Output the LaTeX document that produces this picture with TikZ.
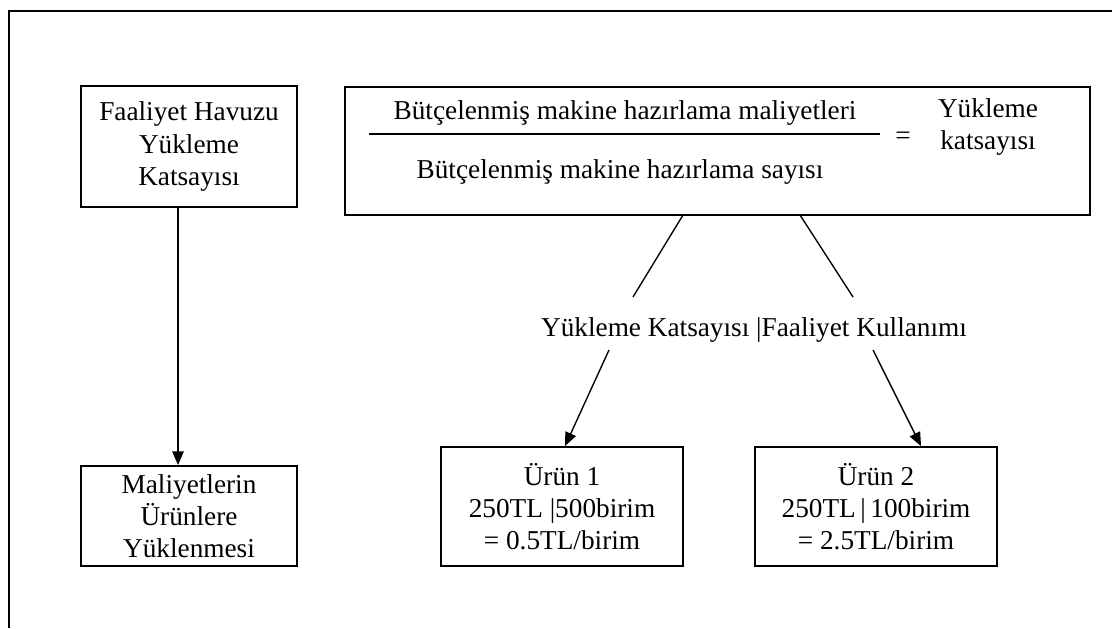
\documentclass[tikz,border=0pt]{standalone}
\usepackage{fontspec}
\setmainfont{Liberation Serif}
\usetikzlibrary{calc}
\usetikzlibrary{arrows.meta}

\begin{document}
\begin{tikzpicture}[x=0.44pt, y=-0.44pt, font=\fontsize{12}{14.1}\selectfont,
  kutu/.style={draw, thick, align=center, inner sep=0},
  yazi/.style={align=center, inner sep=0},
  ok/.style={semithick, -{Triangle[length=6pt, width=5pt]}}]
\useasboundingbox (0,0) rectangle (1112,628);
\draw[thick] (1112,11) -- (9,11) -- (9,628);
% left column
\node[kutu, minimum width=95pt, minimum height=53.2pt] (havuz) at (189,146.5) {Faaliyet Havuzu\\Yükleme\\Katsayısı};
\node[kutu, minimum width=95pt, minimum height=44pt] (maliyet) at (189,516) {Maliyetlerin\\Ürünlere\\Yüklenmesi};
\draw[ok] ($(havuz.south)+(-11,0)$) -- ($(maliyet.north)+(-11,0)$);
% formula box
\node[kutu, minimum width=327.8pt, minimum height=56.3pt] (formul) at (717.5,151) {};
\node[yazi] (pay) at (625,113) {Bütçelenmiş makine hazırlama maliyetleri};
\node[yazi] (payda) at (620,172) {Bütçelenmiş makine hazırlama sayısı};
\draw[semithick] (369,134) -- (880,134);
\node[yazi] (esit) at (903,138) {=};
\node[yazi] (sonuc) at (988,127) {Yükleme\\ katsayısı};
% middle label
\node[yazi] (katsayi) at (754,330) {Yükleme Katsayısı |Faaliyet Kullanımı};
\coordinate (c1) at (683,215);
\coordinate (c2) at (633,297);
\coordinate (c3) at (800,215);
\coordinate (c4) at (853,297);
\coordinate (d1) at (609,350);
\coordinate (d2) at (873,350);
\draw[semithick] (c1) -- (c2);
\draw[semithick] (c3) -- (c4);
% products
\node[kutu, minimum width=106.5pt, minimum height=52.4pt] (urun1) at (562,506.5) {Ürün 1\\250TL |500birim\\= 0.5TL/birim};
\node[kutu, minimum width=106.5pt, minimum height=52.4pt] (urun2) at (876,506.5) {Ürün 2\\250TL\,|\,100birim\\= 2.5TL/birim};
\draw[ok] (d1) -- ($(urun1.north)+(3,0)$);
\draw[ok] (d2) -- ($(urun2.north)+(45,0)$);
\end{tikzpicture}
\end{document}
